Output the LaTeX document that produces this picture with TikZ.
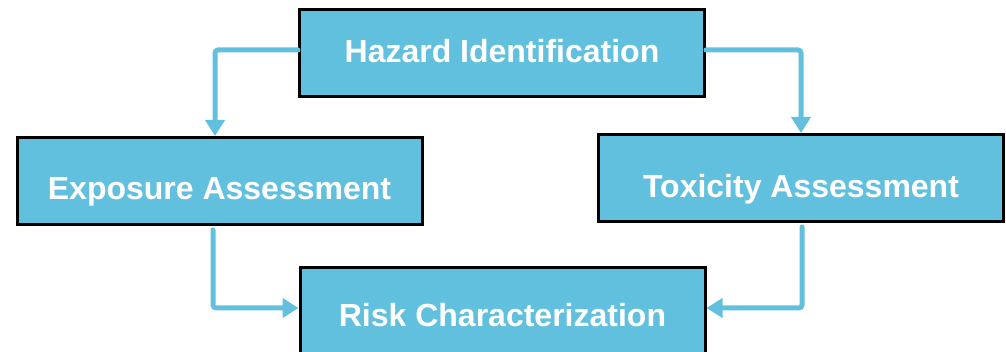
\documentclass[tikz,border=0pt]{standalone}
\usepackage{fontspec}
\setmainfont{Liberation Sans}
\usetikzlibrary{arrows.meta}
\definecolor{boxblue}{HTML}{62C0DF}
\definecolor{arrowblue}{HTML}{62C0DF}
\tikzset{
  stepbox/.style={draw=black, line width=3pt, fill=boxblue, minimum width=405pt, minimum height=87pt,
    inner sep=0pt, text=white, font=\fontsize{32}{36}\selectfont\bfseries, text depth=0pt},
  flow/.style={draw=arrowblue, line width=5pt, line cap=round, rounded corners=3pt,
    -{Triangle[length=16pt,width=19pt]}}
}
\begin{document}
\begin{tikzpicture}[x=1pt,y=-1pt]
\useasboundingbox (0,0) rectangle (1006,352);
\node[stepbox, text height=23pt, text depth=4pt] (hazard) at (502,53) {Hazard Identification};
\node[stepbox, text height=37pt] (exposure) at (219.5,181) {Exposure Assessment};
\node[stepbox, text height=39pt] (toxicity) at (801,178) {Toxicity Assessment};
\node[stepbox, text height=31pt] (risk) at (502.5,311) {Risk Characterization};
\draw[flow] ([yshift=3pt]hazard.west) -| ([xshift=-4.5pt]exposure.north);
\draw[flow] ([yshift=3pt]hazard.east) -| (toxicity.north);
\draw[flow] ([xshift=-6.5pt,yshift=-4pt]exposure.south) |- ([yshift=3pt]risk.west);
\draw[flow] ([xshift=1pt,yshift=-4pt]toxicity.south) |- ([yshift=3pt]risk.east);
\end{tikzpicture}
\end{document}
